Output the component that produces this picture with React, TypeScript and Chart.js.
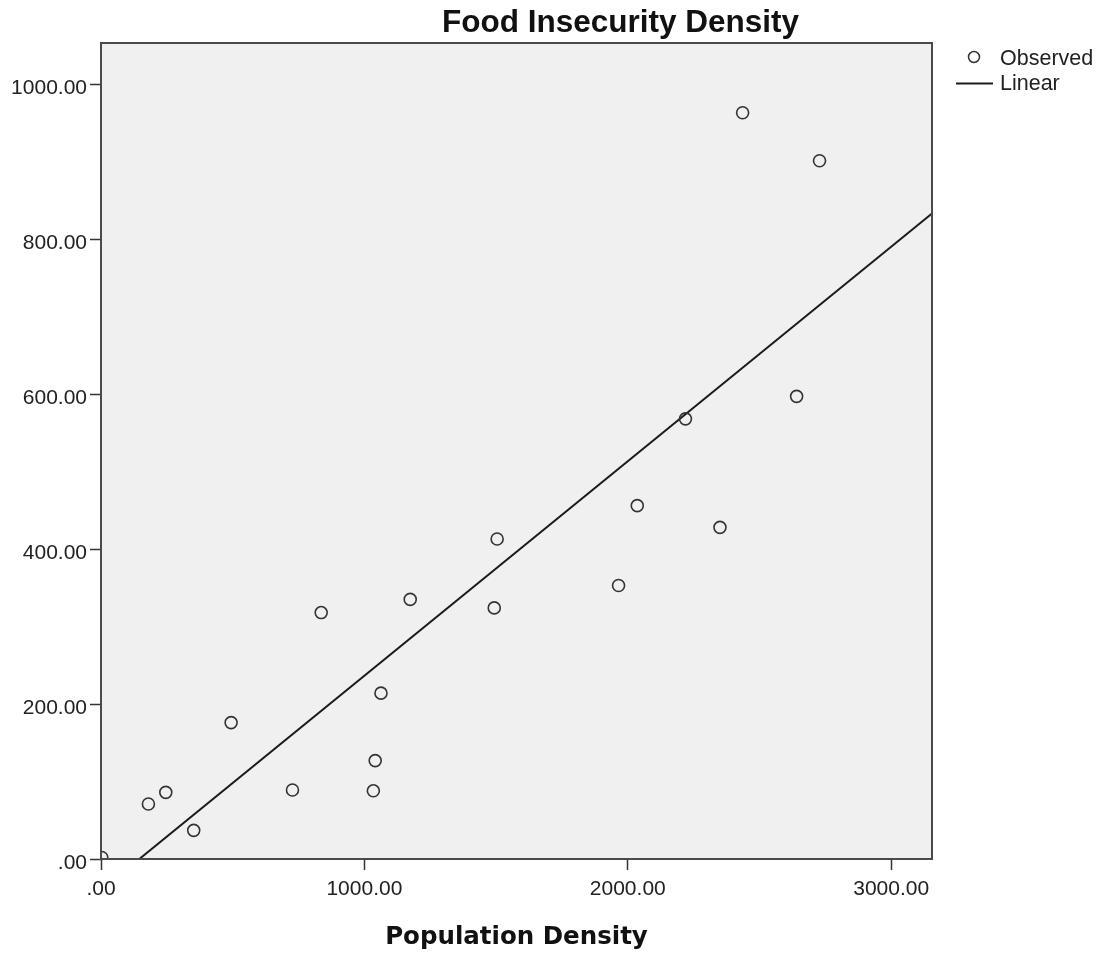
import React, { useEffect, useRef } from "react";
import { Chart, registerables } from "chart.js";

Chart.register(...registerables);

// Observed points (Population Density, Food Insecurity Density)
const popDensity = [3, 180, 246, 352, 494, 727, 836, 1034, 1041, 1063, 1174, 1504, 1493, 1965, 2036, 2219, 2350, 2641, 2436, 2728];
const foodDensity = [2, 71, 86, 37, 176, 89, 318, 88, 127, 214, 335, 413, 324, 353, 456, 568, 428, 597, 963, 901];

// Linear fit line
const fitX = [145.5, 3155];
const fitY = [0, 833];

const xTickValues = [0, 1000, 2000, 3000];
const xTickLabels = [".00", "1000.00", "2000.00", "3000.00"];
const yTickValues = [0, 200, 400, 600, 800, 1000];
const yTickLabels = [".00", "200.00", "400.00", "600.00", "800.00", "1000.00"];

const xMin = 0;
const xMax = 3155;
const yMin = 0;
const yMax = 1053;

const chartTitle = "Food Insecurity Density";
const xTitle = "Population Density";
const seriesNames = ["Observed", "Linear"];

const decorPlugin = {
  id: "decor",
  beforeDatasetsDraw(chart: any) {
    const { ctx, chartArea: a } = chart;
    ctx.save();
    ctx.fillStyle = "#f0f0f0";
    ctx.fillRect(a.left, a.top, a.right - a.left, a.bottom - a.top);
    ctx.restore();
  },
  afterDatasetsDraw(chart: any) {
    const { ctx, chartArea: a } = chart;
    ctx.save();
    ctx.strokeStyle = "#4a4a4a";
    ctx.lineWidth = 2;
    ctx.strokeRect(a.left, a.top, a.right - a.left, a.bottom - a.top);

    // title
    ctx.fillStyle = "#111";
    ctx.textAlign = "center";
    ctx.textBaseline = "alphabetic";
    ctx.font = "bold 31.5px 'Liberation Sans', Arial, sans-serif";
    ctx.fillText(chartTitle, 620.5, 32);

    // x-axis title
    ctx.font = "bold 24.5px 'DejaVu Sans', sans-serif";
    ctx.fillText(xTitle, (a.left + a.right) / 2, 943.5);

    // legend
    ctx.textAlign = "left";
    ctx.textBaseline = "middle";
    ctx.font = "21.5px 'Liberation Sans', Arial, sans-serif";
    ctx.fillStyle = "#222";
    ctx.strokeStyle = "#333";
    ctx.lineWidth = 1.5;
    ctx.beginPath();
    ctx.arc(974, 57, 5.5, 0, Math.PI * 2);
    ctx.stroke();
    ctx.fillText(seriesNames[0], 1000, 59);
    ctx.strokeStyle = "#1a1a1a";
    ctx.lineWidth = 2;
    ctx.beginPath();
    ctx.moveTo(956, 83.5);
    ctx.lineTo(993, 83.5);
    ctx.stroke();
    ctx.fillText(seriesNames[1], 1000, 84.5);
    ctx.restore();
  },
};

export default function App() {
  const ref = useRef<HTMLCanvasElement | null>(null);

  useEffect(() => {
    if (!ref.current) return;
    const chart = new Chart(ref.current, {
      type: "scatter",
      data: {
        datasets: [
          {
            label: seriesNames[0],
            data: popDensity.map((x, i) => ({ x, y: foodDensity[i] })),
            showLine: false,
            pointRadius: 6,
            pointHoverRadius: 6,
            pointBorderWidth: 1.6,
            pointBorderColor: "#333",
            pointBackgroundColor: "rgba(0,0,0,0)",
            clip: 0,
            order: 1,
          } as any,
          {
            label: seriesNames[1],
            data: fitX.map((x, i) => ({ x, y: fitY[i] })),
            showLine: true,
            borderColor: "#1a1a1a",
            borderWidth: 2,
            pointRadius: 0,
            fill: false,
            clip: 0,
            order: 2,
          } as any,
        ],
      },
      options: {
        animation: false,
        responsive: false,
        devicePixelRatio: 1,
        layout: { padding: { left: 0, right: 170, top: 43, bottom: 0 } },
        plugins: {
          legend: { display: false },
          title: { display: false },
          tooltip: { enabled: false },
        },
        scales: {
          x: {
            type: "linear",
            min: xMin,
            max: xMax,
            afterBuildTicks: (s: any) => {
              s.ticks = xTickValues.map((v) => ({ value: v }));
            },
            afterFit: (s: any) => {
              s.height = 98;
            },
            border: { display: false },
            grid: {
              display: true,
              drawOnChartArea: false,
              drawTicks: true,
              tickLength: 11,
              tickColor: "#333",
              tickWidth: 1.5,
            },
            ticks: {
              autoSkip: false,
              maxRotation: 0,
              padding: 7,
              color: "#222",
              font: { family: "'Liberation Sans', Arial, sans-serif", size: 21 },
              callback: (v: any) => {
                const i = xTickValues.indexOf(Number(v));
                return i >= 0 ? xTickLabels[i] : "";
              },
            },
          },
          y: {
            type: "linear",
            min: yMin,
            max: yMax,
            afterBuildTicks: (s: any) => {
              s.ticks = yTickValues.map((v) => ({ value: v }));
            },
            afterFit: (s: any) => {
              s.width = 101;
            },
            border: { display: false },
            grid: {
              display: true,
              drawOnChartArea: false,
              drawTicks: true,
              tickLength: 11,
              tickColor: "#333",
              tickWidth: 1.5,
            },
            ticks: {
              autoSkip: false,
              padding: 3,
              labelOffset: 4,
              color: "#222",
              font: { family: "'Liberation Sans', Arial, sans-serif", size: 21 },
              callback: (v: any) => {
                const i = yTickValues.indexOf(Number(v));
                return i >= 0 ? yTickLabels[i] : "";
              },
            },
          },
        },
      },
      plugins: [decorPlugin],
    });
    return () => chart.destroy();
  }, []);

  return (
    <div style={{ position: "absolute", left: 0, top: 0, width: 1102, height: 957, background: "#fff" }}>
      <canvas ref={ref} width={1102} height={957} style={{ display: "block" }} />
    </div>
  );
}
